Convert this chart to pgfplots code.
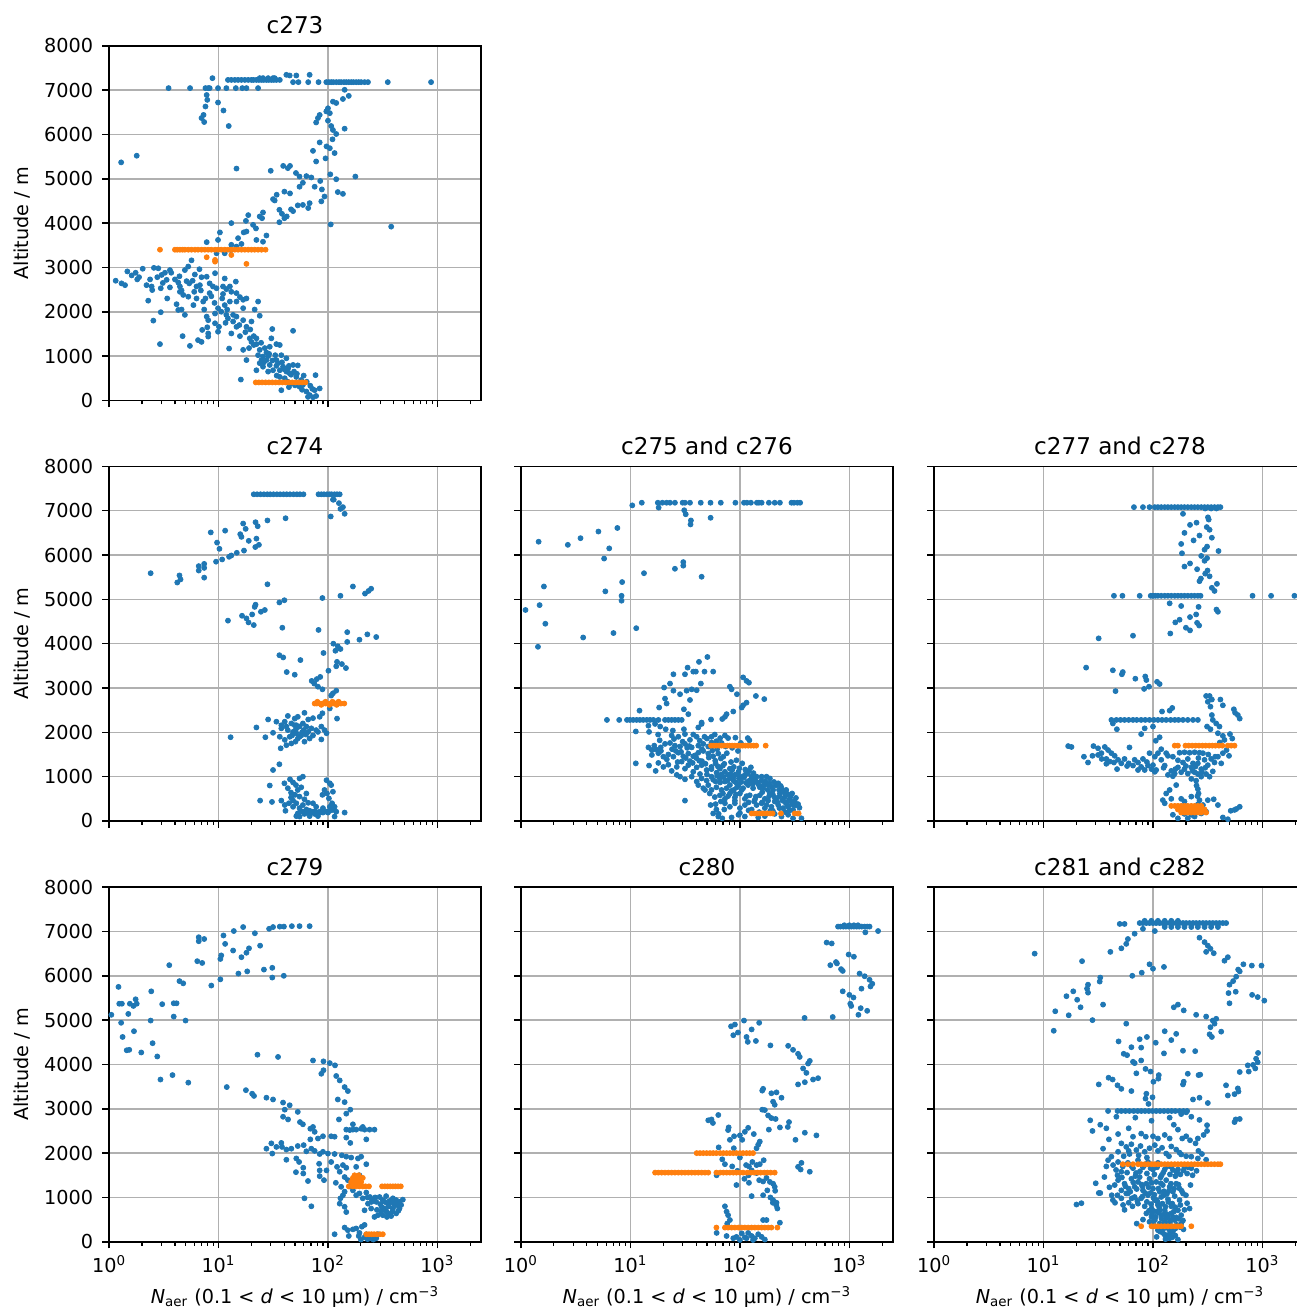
\documentclass[border=0pt]{standalone}
\usepackage{fontspec}
\setmainfont{DejaVu Sans}
\usepackage{pgfplots}
\pgfplotsset{compat=1.18}
\definecolor{mblue}{HTML}{1F77B4}
\definecolor{morange}{HTML}{FF7F0E}
\definecolor{gridgray}{HTML}{B0B0B0}
\newcommand{\xlab}{\textit{N}\textsubscript{aer} (0.1 < \textit{d} < 10 μm) / cm\textsuperscript{−3}}
\begin{document}
\begin{tikzpicture}
% ---------------- c273
\begin{axis}[xmode=log, xmin=1, xmax=2500, ymin=0, ymax=8000, scale only axis, width=193.4pt, height=184.4pt, anchor=south west, xtick={1,10,100,1000}, minor xtick={2,3,4,5,6,7,8,9,20,30,40,50,60,70,80,90,200,300,400,500,600,700,800,900,2000}, ytick={0,1000,2000,3000,4000,5000,6000,7000,8000}, xmajorgrids, ymajorgrids, major grid style={draw=gridgray, line width=0.8pt}, tick align=outside, tick pos=left, major tick length=3.5pt, minor tick length=2pt, every major tick/.append style={black, line width=0.8pt}, every minor tick/.append style={black, line width=0.6pt}, axis line style={black, line width=0.8pt}, title style={at={(0.5,1)}, yshift=-3.5pt, font=\fontsize{12}{14}\selectfont}, ylabel style={at={(axis description cs:0,0.5)}, anchor=center, yshift=45pt}, xlabel style={at={(axis description cs:0.5,0)}, anchor=base, yshift=-31.9pt}, yticklabel style={xshift=-1.3pt},
 at={(56.7pt,473.5pt)}, title={c273}, xticklabels={,,,,}, yticklabels={0,1000,2000,3000,4000,5000,6000,7000,8000}, ylabel={Altitude / m}]
\addplot[only marks, mark=*, mark size=1.3pt, color=mblue] coordinates {(12.2,7230)(13.1,7230)(14.1,7230)(15.1,7230)(16.2,7230)(17.4,7230)(18.7,7230)(20,7230)(20.9,7230)(22.2,7230)(23.4,7230)(24.7,7230)(25.9,7230)(27.4,7230)(28.8,7230)(30.4,7230)(32,7230)(33.8,7230)(36.3,7230)(23.8,7270)(25.5,7270)(28.4,7270)(31.5,7270)(32.6,7270)(8.8,7270)(41.7,7345)(44.7,7330)(51.4,7330)(68,7345)(48,7180)(53.7,7180)(66,7180)(82,7180)(96.6,7180)(102,7180)(107,7180)(112,7180)(119,7180)(126,7180)(132,7180)(140,7180)(147,7180)(155,7180)(163,7180)(171,7180)(181,7180)(191,7180)(201,7180)(216,7180)(232,7180)(352,7180)(875,7180)(142,7007)(3.5,7045)(5.5,7045)(7.6,7045)(8.05,7045)(8.3,7045)(9.9,7045)(11.8,7045)(14.4,7045)(16.5,7045)(18,7045)(23,7045)(7.8,6890)(7.9,6780)(7.6,6630)(7.3,6440)(7,6370)(7.4,6280)(9.9,6720)(11.1,6540)(12.4,6190)(1.29,5370)(1.79,5520)
(137,6800)(155,6870)(119,6710)(111,6740)(100,6590)(96.6,6520)(104,6480)(84,6440)(81,6370)(78,6270)(100,6310)(107,6190)(111,6100)(119,6010)(142,6130)(110,5890)(84,5820)(97,5730)(104,5690)(73,5630)(115,5580)(95,5460)(78,5390)(178,5050)(105,5100)(119,4990)(85,4950)(75.6,4820)(88,4760)(123,4700)(137,4660)(93,4600)(87,4490)(68,4450)(66,4340)(59,4410)(53,4400)(55,4820)(59,4910)(51,5130)(55,5050)(45,5290)(43,5240)(39,5290)(63.5,5060)(70.5,5030)(30,5180)(14.6,5230)(378,3920)(106,3970)
(40,4710)(45,4670)(34,4640)(31.5,4540)(32.6,4510)(36,4300)(38,4210)(46,4310)(48,4270)(42,4150)(40,4110)(36,4020)(25.5,4240)(23.8,4150)(25,4110)(18.7,4180)(13.1,4000)(17.8,4050)(20.7,3960)(22,3880)(27.4,3720)(25.5,3580)(22.2,3620)(17,3790)(18,3810)(15.1,3660)(16.2,3530)(13.1,3510)(10.3,3790)(9.9,3620)(7.8,3570)(9.6,3320)(11.4,3320)(13,3390)(14.6,3470)
(1.15,2700)(1.3,2640)(1.4,2600)(1.47,2910)(1.61,2820)(1.75,2880)(1.88,2780)(2.03,2970)(1.81,2730)(2.57,2990)(2.82,2980)(3.24,2880)(3.6,2940)(2.76,2780)(3.02,2830)(2.37,2730)(2.45,2570)(2.48,2490)(2.97,2530)(3.36,2720)(3.6,2550)(4,2730)(4.29,2660)(4.44,2570)(4.6,2480)(5.11,2690)(5.4,2640)(5.67,3160)(5.29,3020)(4.93,2940)(6.08,2840)(6.7,2960)(7,2780)(6.76,2600)(6.3,2570)(7.8,2790)(8.3,2640)(9.3,2870)(8.9,2570)(9.6,2530)(8.3,2420)(7.6,2300)(7.25,2230)(6.3,2300)(5.3,2340)(4.76,2380)(4.44,2450)(2.28,2250)(3.4,2300)(4.14,2170)(4.29,2040)(4.6,2050)(4.93,1930)(2.97,1990)(2.54,1800)(2.92,1270)(4.7,1450)(5.48,1230)(6.5,1360)(7,1320)(7.1,1590)(8.05,1440)(8.05,1510)(7.9,1650)(8.05,1810)(7.8,1890)(9.3,1960)(9.9,1550)(10.1,1660)(9.3,1740)(11.4,2750)(11,2570)(11.8,2510)(12.7,2570)(13.1,2450)(14.4,2680)(14.6,2420)(15.7,2330)(16.8,2270)(18,2300)(16.8,2080)(14.6,2230)(12.7,2230)(11.4,2150)(9.9,2080)(10.6,2000)(11.8,1930)(12.2,1850)(13.6,1930)(14.6,1890)(15.5,1700)(16.8,1810)(18,1660)(20,1780)(21.4,2050)(23,2230)(23.8,1910)(14.6,1660)(13.1,1510)(12.5,1170)(15.7,1450)(16.8,1140)(18,910)(19.3,1400)(20,1320)(21,1250)(22.2,1270)(23.8,1140)(23,1020)(25.5,990)(24.7,910)(27.4,1080)(29.4,1210)(31,1610)(30.4,1400)(33.8,1270)(36.3,1250)(27.4,910)(29.4,800)(25.5,760)(22.2,680)(23.8,840)(28.4,650)(31.5,680)(33.8,780)(36.3,680)(38.9,760)(41.7,650)(43.2,720)(44.7,610)(48,800)(53,790)(36.3,530)(40.3,500)(46.3,380)(51.4,530)(55,310)(59,350)(63.5,200)(68,120)(75.6,230)(78,100)(77,570)(37.5,230)(16,470)(48,1570)(37.5,1020)(41.7,950)(33.8,910)(22.2,1400)(65.7,80)(73,70)(84,270)(26,860)(34,560)(43,420)(29,1050)(19,1180)(11,2400)(12,2050)(6,2450)(3.1,2650)(2.2,2600)
(3.7,2880)(4.4,2800)(5.8,2700)(6.9,2480)(8.6,2350)(10.8,2300)(9.2,2200)(5.9,2150)(7.4,2050)(11.6,1750)(13.6,1780)(17.6,1540)(19.5,1600)(21,1450)(24.5,1300)(26.5,1180)(28.5,1000)(31,900)(33,1020)(35,840)(38,860)(40,700)(44,780)(46,580)(49,650)(52,600)(57,460)(60,560)(64,420)(69,330)(72,260)(58,240)(50,340)(44,300)};
\addplot[only marks, mark=*, mark size=1.3pt, color=morange] coordinates {(2.92,3400)(4,3400)(4.2,3400)(4.44,3400)(4.7,3400)(4.93,3400)(5.3,3400)(5.67,3400)(6.1,3400)(6.5,3400)(7,3400)(7.5,3400)(8.05,3400)(8.6,3400)(9.3,3400)(9.9,3400)(10.6,3400)(11.4,3400)(12.2,3400)(13.1,3400)(14.1,3400)(15.1,3400)(16.2,3400)(17.4,3400)(18.7,3400)(20,3400)(21.4,3400)(23,3400)(24.7,3400)(26.9,3400)(7.8,3230)(9.3,3170)(9.3,3130)(13.1,3280)(18,3080)(21.9,406)(23.4,406)(25,406)(26.9,406)(28.9,406)(31,406)(33.3,406)(35.7,406)(38.3,406)(41,406)(44,406)(47.2,406)(50.5,406)(54.2,406)(58,406)(62.3,406)};
\end{axis}
% ---------------- c274
\begin{axis}[xmode=log, xmin=1, xmax=2500, ymin=0, ymax=8000, scale only axis, width=193.4pt, height=184.4pt, anchor=south west, xtick={1,10,100,1000}, minor xtick={2,3,4,5,6,7,8,9,20,30,40,50,60,70,80,90,200,300,400,500,600,700,800,900,2000}, ytick={0,1000,2000,3000,4000,5000,6000,7000,8000}, xmajorgrids, ymajorgrids, major grid style={draw=gridgray, line width=0.8pt}, tick align=outside, tick pos=left, major tick length=3.5pt, minor tick length=2pt, every major tick/.append style={black, line width=0.8pt}, every minor tick/.append style={black, line width=0.6pt}, axis line style={black, line width=0.8pt}, title style={at={(0.5,1)}, yshift=-3.5pt, font=\fontsize{12}{14}\selectfont}, ylabel style={at={(axis description cs:0,0.5)}, anchor=center, yshift=45pt}, xlabel style={at={(axis description cs:0.5,0)}, anchor=base, yshift=-31.9pt}, yticklabel style={xshift=-1.3pt},
 at={(56.7pt,254.8pt)}, title={c274}, xticklabels={,,,,}, yticklabels={0,1000,2000,3000,4000,5000,6000,7000,8000}, ylabel={Altitude / m}]
\addplot[only marks, mark=*, mark size=1.3pt, color=mblue] coordinates {(21,7370)(22.5,7370)(24.2,7370)(26,7370)(27.9,7370)(29.7,7370)(31.8,7370)(34.2,7370)(36.6,7370)(39.3,7370)(42,7370)(45,7370)(48.5,7370)(52,7370)(55.5,7370)(59.7,7370)(82,7370)(87,7370)(92,7370)(98,7370)(103,7370)(108,7370)(115,7370)(121,7370)(128,7370)(113,7250)(126,7170)(111,7250)(130,7040)(137,7080)(142,6930)(106,6870)
(41,6830)(28,6780)(21.8,6740)(22.8,6650)(16.8,6710)(17.7,6590)(11.5,6550)(8.5,6510)(15.8,6470)(16.2,6410)(22.2,6370)(18.9,6320)(9.7,6280)(10.2,6140)(23.4,6230)(21.7,6180)(17.1,6100)(14.7,6050)(13.1,5990)(12.5,5960)(10.8,5900)(9.5,5850)(7.4,5800)(6.6,5750)(6.6,5650)(7.4,5710)(4.4,5540)(4.5,5450)(4.2,5380)(7.4,5490)(2.4,5590)
(28,5340)(169,5290)(130,5080)(89,5030)(218,5130)(235,5190)(248,5240)(40,4980)(36,4930)(21.8,4880)(21.4,4830)(26.5,4760)(24.4,4720)(20.3,4660)(16.4,4630)(18,4570)(18.8,4480)(21,4420)(12.2,4520)(38.3,4360)(82,4310)(150,4260)(229,4210)(276,4150)(194,4090)(150,4040)(112,4000)(123,3940)(130,3880)(117,3840)(91,3790)(36,3740)(39,3690)(56,3630)(121,3590)(134,3540)(119,3490)(146,3450)(101,3390)(42,3360)(49.7,3300)(85,3250)(79,3200)(71,3160)(75,3100)(81,3030)(89,2970)
(119,2940)(111,2880)(107,2830)(104,2540)(121,2310)(61,2440)(84,2350)(89,2430)(73,2320)(66,2290)(53,2350)(49.7,2310)(43,2370)(28.4,2290)(22.2,2110)(33.8,2240)(37.5,2160)(40.3,2240)(46.3,2200)(51.4,2160)(55,2130)(59,2200)(63.5,2130)(70.5,2090)(78,2050)(87,2130)(93,2050)(97,1980)(87,1840)(36.3,1900)(40.3,1830)(44.7,1900)(48,2010)(51.4,1980)(55,1900)(61,1790)(46.3,1750)(41.7,1710)(50.5,1790)(31.5,1990)(26.8,1890)(12.9,1890)(37,1640)(57,1930)(66,2010)(73,1930)(60,2050)(51,2070)(43,2050)(37.5,2090)(53,1860)(68,1860)(81,2010)(49.7,2160)(41.7,2130)(58,2000)(63,1950)(47,1930)(36,1280)(31.5,1150)
(45,940)(40,850)(48,870)(55,960)(59,1000)(51,810)(53,700)(57,760)(43,740)(46,640)(50,590)(55,550)(63.5,620)(29.4,800)(24,460)(30.8,430)(37.5,460)(40.3,360)(40.9,230)(44,400)(48,320)(51.4,400)(55,290)(59,360)(63.5,260)(51.4,110)(55,100)(59,210)(63.5,190)(68,230)(73,210)(78,200)(84,210)(90,190)(97,210)(104,230)(111,250)(119,210)(142,190)(115,100)(89,590)(93,700)(97,920)(104,850)(98,620)(107,810)(111,660)(102,510)(109,400)(115,320)(104,320)(73,400)(78,320)(66,410)(61,490)(48,460)(53,170)(75.6,160)(61,160)(68,110)(81,110)(90,290)(46,530)(70,190)(86,195)(100,190)(65,205)(56,220)(76,215)(93,220)};
\addplot[only marks, mark=*, mark size=1.3pt, color=morange] coordinates {(75.6,2650)(79,2650)(84,2650)(89,2650)(95,2650)(99,2650)(105,2650)(111,2650)(117,2650)(124,2650)(131,2650)(141,2650)(80,2690)(95,2690)(110,2690)(125,2690)(87,2620)(103,2620)(120,2620)};
\end{axis}
% ---------------- c275 and c276
\begin{axis}[xmode=log, xmin=1, xmax=2500, ymin=0, ymax=8000, scale only axis, width=193.4pt, height=184.4pt, anchor=south west, xtick={1,10,100,1000}, minor xtick={2,3,4,5,6,7,8,9,20,30,40,50,60,70,80,90,200,300,400,500,600,700,800,900,2000}, ytick={0,1000,2000,3000,4000,5000,6000,7000,8000}, xmajorgrids, ymajorgrids, major grid style={draw=gridgray, line width=0.8pt}, tick align=outside, tick pos=left, major tick length=3.5pt, minor tick length=2pt, every major tick/.append style={black, line width=0.8pt}, every minor tick/.append style={black, line width=0.6pt}, axis line style={black, line width=0.8pt}, title style={at={(0.5,1)}, yshift=-3.5pt, font=\fontsize{12}{14}\selectfont},
 at={(270.9pt,254.8pt)}, title={c275 and c276}, xticklabels={,,,,}, yticklabels={,,,,,,,,,}]
\addplot[only marks, mark=*, mark size=1.3pt, color=mblue] coordinates {(10.4,7120)(12.7,7180)(17.8,7180)(18.1,7070)(19.6,7180)(21.4,7180)(23,7180)(25.5,7180)(30,7180)(31.5,7180)(35,7180)(43.9,7180)(53.9,7180)(66.9,7180)(91,7180)(109,7180)(116,7180)(126,7180)(143,7180)(149,7180)(158,7180)(184,7180)(208,7180)(232,7180)(296,7180)(312,7180)(335,7180)(355,7180)(31,7010)(32,6920)(35.7,6780)(35.4,6690)(54,6840)
(1.45,6300)(2.68,6230)(3.5,6380)(5.1,6530)(7.6,6610)(6.4,6150)(5.75,5920)(8.4,5390)(1.62,5290)(5.9,5180)(8.3,5080)(8.3,4970)(1.1,4760)(1.48,4870)(1.67,4450)(1.43,3930)(3.7,4140)(7,4240)(11.3,4350)(13.3,5590)(25.5,5690)(30.4,5840)(30.4,5760)(44.7,5510)
(6.1,2280)(7.9,2280)(9.3,2280)(9.9,2280)(10.6,2280)(11.4,2280)(12.2,2280)(13.1,2280)(14.1,2280)(15.1,2280)(16.2,2280)(18,2280)(20.7,2280)(22.2,2280)(23.8,2280)(25.5,2280)(27.4,2280)(29.4,2280)(54.5,2290)(44.7,2220)
(50.5,3700)(42.3,3590)(33.3,3460)(39.6,3370)(47.5,3370)(57,3370)(24.7,3310)(31.5,3310)(37.5,3370)(23,3100)(20.3,3010)(24.7,2940)(28.4,2860)(32.6,2940)(36.3,2970)(44,3100)(40.3,2950)(20.7,2760)(21.4,2650)(35,2730)(18.3,2560)(30.8,2520)(33.8,2410)(107,3240)(115,3160)(121,3120)(81,3030)(84,2970)(94,2860)(140,2820)(167,2750)(115,2670)(107,2610)(104,2560)(87,2470)(75.6,2410)(73,2350)(69,2300)(44.7,2190)(41.7,2110)
(12.1,2490)(14.6,2150)(16.8,2190)(18.7,2130)(21,2070)(24.4,2040)(30.8,2070)(11.2,2020)(14.8,2010)(17.9,1950)(23.8,1930)(27.4,1900)(31.5,1960)(37.5,1950)(40.3,1900)(47.5,1900)(55,1900)(59,1950)(66,1870)(73,1930)(78,1870)(91,1880)(118,1870)(122,1820)(14.6,1660)(15.7,1600)(17.2,1610)(18.9,1660)(20.7,1740)(23,1760)(25.5,1700)(28.4,1680)(31.5,1740)(36.3,1660)(41.7,1700)(46.3,1740)(51.4,1680)(55,1770)(15.7,1490)(18,1530)(20,1450)(22.2,1500)(24.7,1450)(27.4,1540)(30.4,1460)(33.8,1520)(37.5,1460)(41.7,1540)(46.3,1580)(51.4,1520)(57,1460)(63.5,1520)(70.5,1450)(11.2,1300)(14.8,1250)(17,1130)(18,1310)(20,1220)(22.2,1270)(23.8,1130)(26.5,1040)(26.5,1220)(29.4,1340)(31.5,1180)(33.8,1260)(37.5,1110)(40.3,1210)(43.2,1060)(44.7,1260)(49.7,1150)(55,1220)(61.3,1090)(65.7,1180)(73,1110)(78,1040)(81,1180)(28.4,1000)(31.5,940)(36.3,1000)(40.3,890)(44.7,960)(49.7,910)(55,1000)(60,890)(65.7,960)(73,890)(81,960)(90,1040)(97,1110)(104,1000)(111,1040)(121,1130)(128,1000)(142,1000)(158,1000)(175,1000)(188,960)(41.7,810)(46.3,740)(51.4,810)(55,700)(61,760)(68,700)(75.6,740)(81,810)(88,700)(97,810)(107,740)(119,810)(132,740)(147,830)(163,740)(181,810)(201,700)(224,850)(240,740)(53,620)(59,540)(65.7,580)(73,500)(81,620)(90,530)(100,620)(111,500)(123,580)(137,480)(152,580)(169,500)(188,620)(208,530)(232,620)(257,540)(286,500)(317,440)(54,360)(61,260)(57,170)(63.5,100)(69,60)(73,400)(81,320)(90,400)(100,290)(111,360)(128,260)(142,360)(169,290)(194,320)(224,360)(248,290)(276,320)(306,250)(335,170)(365,60)(208,160)(240,100)(276,140)(306,60)(169,110)(147,80)(111,100)(97,140)(84,80)(31.5,460)(158,400)(181,460)(208,440)(60,1300)(70,1250)(85,1150)(95,1050)(68,1050)(50,1050)(45,1350)(35,1350)(26,1580)(33,1650)(40,1420)(62,1620)(55,1170)(88,900)(120,900)(140,900)(160,650)(180,700)(200,600)(220,420)(260,420)(120,420)(90,460)(70,620)(48,700)(150,200)(130,180)(200,230)(260,200)(280,460)
(19,1580)(21.5,1390)(24,1620)(27,1330)(29,1560)(32,1420)(34.5,1690)(37,1310)(39,1480)(42.5,1360)(45,1620)(48.5,1290)(52,1430)(56,1590)(59.5,1360)(63,1230)(67,1410)(72,1290)(76,1530)(83,1330)(88,1220)(93,1370)(99,1190)(105,1300)(112,1160)(118,1070)(126,1210)(133,1080)(16.5,1700)(18.5,1820)(25,1850)(30,1790)(35,1830)(43,1810)(50,1860)(61,1800)(68,1760)(74,1680)(85,1650)(96,1580)(102,1760)(57,930)(62,1020)(66,870)(71,990)(77,910)(82,1060)(87,980)(93,860)(98,960)(103,880)(109,980)(114,860)(124,920)(131,840)(136,950)(145,870)(152,760)(157,910)(166,820)(172,890)(186,850)(195,780)(205,880)(214,800)(228,700)(236,790)(252,650)(265,700)(272,610)(290,560)(300,620)(325,520)(340,380)(350,300)(300,380)(285,240)(230,290)(190,230)(175,360)(160,420)(135,440)(115,560)(104,700)(94,760)(84,680)(78,560)(67,440)(60,380)(64,160)(72,260)(100,180)(120,240)(92,600)(140,550)(185,560)(215,480)(245,460)(230,550)(270,360)(320,350)(296,440)};
\addplot[only marks, mark=*, mark size=1.3pt, color=morange] coordinates {(54.5,1700)(57.6,1700)(61,1700)(64.7,1700)(68,1700)(71.6,1700)(76.6,1700)(80.4,1700)(85,1700)(90,1700)(95.4,1700)(101,1700)(106,1700)(112,1700)(119,1700)(126,1700)(134,1700)(141,1700)(172,1700)(128,170)(135,170)(144,170)(152,170)(161,170)(169,170)(178,170)(189,170)(199,170)(237,170)(317,170)(344,170)};
\end{axis}
% ---------------- c277 and c278
\begin{axis}[xmode=log, xmin=1, xmax=2500, ymin=0, ymax=8000, scale only axis, width=193.4pt, height=184.4pt, anchor=south west, xtick={1,10,100,1000}, minor xtick={2,3,4,5,6,7,8,9,20,30,40,50,60,70,80,90,200,300,400,500,600,700,800,900,2000}, ytick={0,1000,2000,3000,4000,5000,6000,7000,8000}, xmajorgrids, ymajorgrids, major grid style={draw=gridgray, line width=0.8pt}, tick align=outside, tick pos=left, major tick length=3.5pt, minor tick length=2pt, every major tick/.append style={black, line width=0.8pt}, every minor tick/.append style={black, line width=0.6pt}, axis line style={black, line width=0.8pt}, title style={at={(0.5,1)}, yshift=-3.5pt, font=\fontsize{12}{14}\selectfont},
 at={(485.7pt,254.8pt)}, title={c277 and c278}, xticklabels={,,,,}, yticklabels={,,,,,,,,,}]
\addplot[only marks, mark=*, mark size=1.3pt, color=mblue] coordinates {(67,7080)(81,7080)(93,7080)(104,7080)(111,7080)(119,7080)(128,7080)(137,7080)(147,7080)(158,7080)(169,7080)(181,7080)(194,7080)(208,7080)(224,7080)(240,7080)(257,7080)(276,7080)(296,7080)(317,7080)(340,7080)(365,7080)(392,7080)(413,7080)(300,7050)(340,7050)(380,7050)
(188,6930)(218,6680)(250,6730)(194,6500)(235,6330)(266,6440)(310,6630)(329,6570)(318,6850)(323,6800)(345,6390)(312,6190)(296,6120)(181,6250)(184,6040)(397,6090)(276,5980)(312,5930)(296,5870)(194,5740)(218,5810)(253,5680)(274,5470)(315,5650)(329,5520)(300,5580)(266,5410)(384,5350)(345,5260)(365,5190)
(44,5080)(52.6,5080)(75.6,5080)(95.4,5080)(100,5080)(105,5080)(111,5080)(119,5080)(128,5080)(137,5080)(147,5080)(158,5080)(169,5080)(181,5080)(194,5080)(208,5080)(224,5080)(240,5080)(257,5080)(272,5080)(812,5080)(1200,5080)(1960,5080)
(142,4910)(181,4850)(261,4830)(380,4770)(392,4720)(248,4660)(218,4600)(175,4540)(160,4480)(253,4470)(264,4410)(200,4360)(218,4300)(144,4230)(65.7,4180)(31.9,4120)
(24.5,3460)(43,3400)(53,3360)(52,3310)(69,3210)(85,3260)(87,3180)(109,3140)(115,3090)(92,3030)(83,2980)(45.5,2930)
(306,2820)(329,2820)(345,2740)(413,2740)(317,2690)(335,2580)(435,2610)(548,2520)(563,2440)(596,2390)(620,2310)(345,2390)(352,2280)(378,2200)(405,2130)(335,2070)(312,2130)(392,1980)(435,1920)(505,1960)(530,1860)(450,1830)(408,1770)(150,2550)(142,2490)(121,2470)
(41.7,2280)(46.3,2280)(50.5,2280)(55,2280)(60,2280)(65.7,2280)(71,2280)(78,2280)(85,2280)(93,2280)(102,2280)(111,2280)(121,2280)(132,2280)(145,2280)(158,2280)(171,2280)(188,2280)(208,2280)(232,2280)(257,2280)(43,2200)(46.8,2070)(84,2090)(78,1960)(100,2130)(106,1810)(115,1890)
(16.8,1690)(18,1670)(23.4,1450)(25.5,1320)(28.6,1690)(31.5,1640)(33.8,1530)(31.5,1490)(36.3,1670)(38.9,1600)(37.5,1400)(41.7,1530)(44.7,1470)(40.3,1340)(37.5,1290)(48,1380)(51.4,1300)(55,1400)(47,1170)(61,1660)(60,1300)(65.7,1250)(73,1320)(78,1220)(84,1150)(90,1250)(97,1170)(104,1110)(93,1530)(104,1450)(111,1530)(119,1380)(128,1250)(137,1470)(147,1130)(158,1070)(169,1210)(181,1100)(194,1170)(208,1070)(224,1210)(240,1100)(257,1300)(276,1170)(296,1380)(317,1260)(340,1400)(365,1320)(392,1450)(435,1530)(470,1600)(495,1470)(420,1300)(352,1120)(329,1000)(306,1060)(175,1540)(194,1550)(216,1540)(240,1550)(266,1540)(286,1530)(152,1450)(169,1370)(188,1320)(208,1400)(232,1300)(257,1060)(276,1000)(152,1010)(137,1040)(224,950)(132,1530)(119,1620)(107,1150)(73,1150)(81,1400)(34,1400)(28,1470)(44,1320)(58,1240)(68,1380)(88,1330)(100,1260)(125,1200)(160,1170)(200,1240)(245,1230)(300,1200)(230,1130)(280,1100)(320,1500)(370,1450)(260,1420)
(163,810)(142,700)(132,620)(147,500)(123,470)(128,400)(181,500)(194,440)(224,550)(248,910)(257,720)(261,620)(266,470)(286,360)(317,470)(359,490)(392,360)(152,140)(169,60)(208,60)(240,100)(276,170)(306,210)(248,230)(435,80)(483,40)(513,230)(556,250)(620,320)(576,270)(194,160)(224,140)(250,800)(255,560)(258,380)};
\addplot[only marks, mark=*, mark size=1.3pt, color=morange] coordinates {(158,1700)(169,1700)(198,1700)(212,1700)(228,1700)(245,1700)(263,1700)(283,1700)(303,1700)(326,1700)(348,1700)(372,1700)(400,1700)(430,1700)(483,1700)(518,1700)(556,1700)(147,340)(158,340)(169,340)(181,340)(194,340)(208,340)(224,340)(240,340)(257,340)(276,340)(169,260)(181,260)(194,260)(208,260)(224,260)(240,260)(257,260)(276,260)(296,260)(181,190)(194,190)(208,190)(224,190)(240,190)(257,190)(276,190)(306,190)};
\end{axis}
% ---------------- c279
\begin{axis}[xmode=log, xmin=1, xmax=2500, ymin=0, ymax=8000, scale only axis, width=193.4pt, height=184.4pt, anchor=south west, xtick={1,10,100,1000}, minor xtick={2,3,4,5,6,7,8,9,20,30,40,50,60,70,80,90,200,300,400,500,600,700,800,900,2000}, ytick={0,1000,2000,3000,4000,5000,6000,7000,8000}, xmajorgrids, ymajorgrids, major grid style={draw=gridgray, line width=0.8pt}, tick align=outside, tick pos=left, major tick length=3.5pt, minor tick length=2pt, every major tick/.append style={black, line width=0.8pt}, every minor tick/.append style={black, line width=0.6pt}, axis line style={black, line width=0.8pt}, title style={at={(0.5,1)}, yshift=-3.5pt, font=\fontsize{12}{14}\selectfont}, ylabel style={at={(axis description cs:0,0.5)}, anchor=center, yshift=45pt}, xlabel style={at={(axis description cs:0.5,0)}, anchor=base, yshift=-31.9pt}, yticklabel style={xshift=-1.3pt},
 at={(56.7pt,36.0pt)}, title={c279}, xticklabels={10\textsuperscript{0},10\textsuperscript{1},10\textsuperscript{2},10\textsuperscript{3}}, yticklabels={0,1000,2000,3000,4000,5000,6000,7000,8000}, ylabel={Altitude / m}, xlabel={\xlab}]
\addplot[only marks, mark=*, mark size=1.3pt, color=mblue] coordinates {(68,7120)(55,7120)(46.8,7120)(39.6,7110)(36.3,7110)(31.5,7100)(29,7060)(16.8,7100)(13.8,7010)(21.5,6960)(11.1,6910)(11.5,6720)(6.6,6870)(6.6,6780)(7.4,6830)(13.6,6570)(16.2,6420)(18,6520)(19,6620)(24,6680)(10.4,6380)(10.6,6460)(6.4,6330)(7.1,6290)(3.55,6240)(26,6140)(31,6180)(31,5960)(39.5,6000)(18.3,6100)(15.2,6050)(10.4,5920)(8.6,5780)(4.4,5880)(4.76,5830)(1.22,5750)(2.43,5650)(1.24,5370)(1.31,5370)(1.55,5370)(1.67,5320)(1.79,5370)(1.75,5470)(3.06,5360)(3.9,5380)(4.14,5380)(1.05,5120)(1.5,5140)(1.29,4940)(2.4,4990)(3.9,5080)(5,4990)(1.33,4620)(1.69,4750)(1.45,4320)(1.53,4330)(1.97,4270)(2.5,4480)(2.76,4180)(2.95,3660)(3.8,3760)(5.3,3590)
(22.7,4220)(35,4170)(73,4090)(91,4070)(104,4030)(116,3980)(87,3790)(91,3870)(119,3740)(128,3640)(142,3490)(152,3400)(123,3210)(142,3150)(160,2980)(147,2890)(11.9,3490)(17.8,3420)(20.3,3340)(21.1,3290)(27.4,3250)(31.5,3210)(38.9,3140)(44.7,3080)(40.3,2980)(53,2930)(38.9,2820)(43.2,2760)(55.5,2700)(59,2650)(69,2550)(73,2590)(75.6,2480)(126,2760)(147,2530)(158,2520)(169,2530)(181,2530)(201,2550)(216,2530)(240,2530)(266,2530)(208,2590)(169,2650)(81,2330)(90,2380)(107,2380)(115,2370)(147,2350)(160,2230)(224,2310)(69,2310)(27.4,2100)(30.4,2220)(31,1990)(33.8,2140)(37.5,2230)(38,2140)(41.7,2080)(46.3,2100)(53,2160)(60,2180)(63.5,2040)(70.5,2100)(75.6,2050)(84,1980)(90,2030)(100,1990)(115,1980)(41.7,1850)(51.4,1880)(54.5,1800)(59.5,1670)(51,1570)(59.5,1540)(65.7,1370)(83,1760)(84,1610)(84,1480)(92,1390)(97,1610)(107,1800)(121,1690)(128,1580)(137,1730)(147,1670)(134,1950)(147,1920)(163,1900)(188,1880)(201,1920)(224,1750)(181,1690)(194,1500)(118,1330)(142,1460)(152,1390)(132,1240)(158,1250)(142,1130)(169,1160)(181,1050)(194,1090)(208,980)(224,1110)(242,1010)(257,940)(276,900)(296,1010)(317,940)(340,1030)(365,920)(392,980)(420,940)(450,900)(483,950)(435,830)(392,750)(352,860)(329,750)(306,680)(286,600)(266,560)(248,750)(232,860)(216,710)(317,600)(352,640)(386,680)(420,640)(450,750)(466,830)(346,560)(378,580)(137,1050)(128,860)(142,790)(130,980)(147,670)(61,980)(70.5,800)(115,170)(142,320)(152,260)(169,280)(181,300)(194,200)(216,380)(204,340)(191,130)(216,100)(240,80)(257,130)(276,80)(286,170)(224,170)(155,130)(300,850)(330,900)(360,800)(400,860)(280,720)(250,900)(230,1000)(270,1000)(310,780)(340,700)(380,900)(410,820)(440,700)(200,50)(230,60)(260,50)};
\addplot[only marks, mark=*, mark size=1.3pt, color=morange] coordinates {(155,1250)(169,1250)(181,1250)(194,1250)(208,1250)(220,1250)(237,1250)(163,1350)(175,1350)(188,1350)(201,1350)(169,1440)(184,1440)(197,1440)(208,1440)(175,1500)(191,1500)(312,1250)(331,1250)(350,1250)(370,1250)(392,1250)(413,1250)(437,1250)(463,1250)(224,170)(237,170)(250,170)(264,170)(280,170)(298,170)(317,170)};
\end{axis}
% ---------------- c280
\begin{axis}[xmode=log, xmin=1, xmax=2500, ymin=0, ymax=8000, scale only axis, width=193.4pt, height=184.4pt, anchor=south west, xtick={1,10,100,1000}, minor xtick={2,3,4,5,6,7,8,9,20,30,40,50,60,70,80,90,200,300,400,500,600,700,800,900,2000}, ytick={0,1000,2000,3000,4000,5000,6000,7000,8000}, xmajorgrids, ymajorgrids, major grid style={draw=gridgray, line width=0.8pt}, tick align=outside, tick pos=left, major tick length=3.5pt, minor tick length=2pt, every major tick/.append style={black, line width=0.8pt}, every minor tick/.append style={black, line width=0.6pt}, axis line style={black, line width=0.8pt}, title style={at={(0.5,1)}, yshift=-3.5pt, font=\fontsize{12}{14}\selectfont}, xlabel style={at={(axis description cs:0.5,0)}, anchor=base, yshift=-31.9pt},
 at={(270.9pt,36.0pt)}, title={c280}, xticklabels={10\textsuperscript{0},10\textsuperscript{1},10\textsuperscript{2},10\textsuperscript{3}}, yticklabels={,,,,,,,,,}, xlabel={\xlab}]
\addplot[only marks, mark=*, mark size=1.3pt, color=mblue] coordinates {(788,7110)(830,7110)(880,7110)(930,7110)(985,7110)(1042,7110)(1100,7110)(1165,7110)(1230,7110)(1300,7110)(1380,7110)(1455,7110)(1530,7110)(900,7140)(1000,7140)(1100,7140)(1200,7140)(1400,6980)(1830,7010)
(620,6750)(690,6730)(985,6480)(1100,6430)(670,6240)(755,6310)(770,6280)(840,6150)(870,6110)(1240,6050)(1380,5990)(1530,5910)(1620,5820)(1560,5760)(870,5650)(1000,5570)(1090,5510)(1020,5370)(1040,5320)(1270,5270)(1455,5210)(1210,5120)(705,5070)(1290,5710)
(390,5050)(109,4990)(83,4860)(90,4900)(150,4940)(128,4790)(87,4660)(96,4720)(115,4620)(118,4510)(140,4530)(190,4430)(276,4420)(306,4330)(340,4240)(352,4170)(435,4080)(420,4020)(378,3910)(405,3810)(466,3660)(518,3690)(340,3550)(392,3600)(163,3450)(160,3410)(194,3350)(216,3370)(240,3250)(201,3160)(208,3090)(160,2980)(169,2970)(181,2850)(194,2790)(212,2770)(232,2580)(281,2700)(274,2590)(184,2530)(322,2300)(392,2460)(500,2400)(55,2760)(56.7,2680)(51.4,2740)(63.5,2860)(79,2580)(78,2520)(88.5,2380)(81,2300)(100,2400)(111,2480)(119,2570)(134,2430)(147,2190)(142,2110)(152,2260)(88,2110)(105,2300)(64,2130)(69,1860)(73,1750)(121,1700)(128,1610)(114,1730)(142,1730)(165,1840)(152,1750)(61.3,1500)(93,1280)(121,1330)(142,1550)(150,1390)(163,1360)(175,1440)(188,1350)(201,1310)(178,1160)(163,1050)(208,1240)(128,1030)(340,1690)(365,1780)(435,1580)(359,1630)(201,940)(216,880)(220,750)(73,800)(75.6,680)(78,600)(81,490)(76.6,410)(163,490)(175,490)(232,430)(61.3,200)(75.6,130)(87,80)(93,110)(104,190)(111,100)(119,200)(128,130)(137,80)(147,170)(158,110)(169,50)(115,80)(100,40)(132,40)(120,1500)(110,1420)(130,1800)(100,1900)(85,1700)(95,1600)(210,1150)(190,1000)(200,880)(215,820)};
\addplot[only marks, mark=*, mark size=1.3pt, color=morange] coordinates {(40.3,2000)(43.2,2000)(46.3,2000)(49.7,2000)(53.3,2000)(57,2000)(61,2000)(66,2000)(70.5,2000)(75.6,2000)(81,2000)(87,2000)(93,2000)(100,2000)(107,2000)(115,2000)(123,2000)(132,2000)(16.8,1560)(18,1560)(19.3,1560)(20.7,1560)(22.2,1560)(23.8,1560)(25.5,1560)(27.4,1560)(29.4,1560)(31.5,1560)(33.8,1560)(36.3,1560)(38.9,1560)(41.7,1560)(44.7,1560)(48,1560)(51.4,1560)(61,1560)(66,1560)(70.5,1560)(75.6,1560)(81,1560)(87,1560)(93,1560)(100,1560)(107,1560)(117,1560)(126,1560)(135,1560)(145,1560)(155,1560)(167,1560)(178,1560)(191,1560)(208,1560)(61,320)(73,320)(78,320)(84,320)(90,320)(97,320)(104,320)(111,320)(119,320)(128,320)(137,320)(147,320)(158,320)(169,320)(181,320)(194,320)(220,320)};
\end{axis}
% ---------------- c281 and c282
\begin{axis}[xmode=log, xmin=1, xmax=2500, ymin=0, ymax=8000, scale only axis, width=193.4pt, height=184.4pt, anchor=south west, xtick={1,10,100,1000}, minor xtick={2,3,4,5,6,7,8,9,20,30,40,50,60,70,80,90,200,300,400,500,600,700,800,900,2000}, ytick={0,1000,2000,3000,4000,5000,6000,7000,8000}, xmajorgrids, ymajorgrids, major grid style={draw=gridgray, line width=0.8pt}, tick align=outside, tick pos=left, major tick length=3.5pt, minor tick length=2pt, every major tick/.append style={black, line width=0.8pt}, every minor tick/.append style={black, line width=0.6pt}, axis line style={black, line width=0.8pt}, title style={at={(0.5,1)}, yshift=-3.5pt, font=\fontsize{12}{14}\selectfont}, xlabel style={at={(axis description cs:0.5,0)}, anchor=base, yshift=-31.9pt},
 at={(485.7pt,36.0pt)}, title={c281 and c282}, xticklabels={10\textsuperscript{0},10\textsuperscript{1},10\textsuperscript{2},10\textsuperscript{3}}, yticklabels={,,,,,,,,,}, xlabel={\xlab}]
\addplot[only marks, mark=*, mark size=1.3pt, color=mblue] coordinates {(75.6,7190)(81,7190)(87,7190)(93,7190)(100,7190)(107,7190)(115,7190)(123,7190)(132,7190)(142,7190)(152,7190)(163,7190)(175,7190)(188,7190)(201,7190)(216,7190)(232,7190)(248,7190)(266,7190)(286,7190)(306,7190)(329,7190)(352,7190)(378,7190)(405,7190)(435,7190)(466,7190)(84,7240)(96.6,7240)(111,7240)(128,7240)(147,7240)(169,7240)(128,7100)(147,7100)(169,7100)(194,7100)(224,7100)(257,7100)(296,7100)(340,7100)(392,7100)(49.7,7170)(55,7170)(81,7060)(104,7010)
(68,6950)(59,6830)(57,6720)(51.4,6620)(40.8,6540)(8.3,6500)(22.5,6330)(33,5960)(32.6,5870)(25.5,5800)(25,5710)(25.5,5620)(18.7,5650)(16.2,5540)(20.3,5460)(21.8,5290)(35,5350)(17,5110)(12.8,5200)(12.4,4760)(28,5000)(57,4920)(93,6260)(100,6160)(126,6200)(79,6070)(64.7,6000)
(266,6860)(296,6760)(317,6680)(335,6610)(306,6540)(359,6510)(483,6420)(450,6340)(670,6260)(620,6100)(576,5980)(540,5880)(500,5800)(490,5610)(500,5380)(570,5640)(800,6230)(980,6230)(805,5570)(905,5520)(1040,5440)(600,6140)
(155,5290)(169,5350)(191,5220)(248,5120)(306,5080)(352,4990)(378,5030)(365,4920)(335,4840)(329,4680)(345,4620)(420,4740)(912,4260)(875,4130)(905,4050)(820,3990)(735,3980)(620,3830)(750,3840)(860,3910)(465,3530)(483,3300)(556,3330)(596,3460)(604,3390)(570,2760)(620,2770)(556,2700)
(128,4750)(163,4690)(147,4550)(106,4490)(88,4620)(75.6,4570)(63.5,4390)(58,4210)(48.5,4520)(54,4240)(78,4380)(126,4250)(188,4310)(243,4300)(68,4030)(65.7,4060)(78,4090)(85.5,3900)(95,3840)(70.5,3800)(113,3760)(112,3680)(101,3610)(191,3610)(208,3790)(261,3760)(270,3770)(188,3550)(32,3550)(39.3,3700)(42.8,3660)(47.4,3530)(51.4,3450)(63.5,3400)(87,3340)(85.5,3230)(99,3260)(91,3110)(232,3210)(266,3250)(317,3130)(38.9,2950)(46.3,2820)(69,2800)(97,2730)(142,2800)(181,2880)(201,2920)(224,2820)(266,2750)(312,2630)(312,2500)(26.7,2740)(28,2500)(33,2640)(37.5,2560)(48,2430)(60,2560)(65.7,2370)(78,2440)(86,2370)(100,2380)(111,2330)(128,2410)(142,2330)(155,2640)(169,2530)(185,2330)(201,2380)(218,2290)(257,2330)(290,2410)(245,2220)(39.6,2310)(35,2100)(33,1100)(20,840)(22.2,870)
(47.5,2950)(51.4,2950)(56,2950)(61,2950)(66.7,2950)(72.5,2950)(78.3,2950)(84.6,2950)(91.6,2950)(99,2950)(107,2950)(116,2950)(126,2950)(137,2950)(148,2950)(160,2950)(175,2950)(190,2950)(205,2950)
(51.4,2220)(57,2140)(63.5,2200)(70.5,2070)(77,2160)(84,2030)(93,2110)(104,2180)(111,2050)(121,2120)(132,1990)(147,2150)(163,2080)(181,1970)(201,1930)(224,1920)(61,1980)(54,1930)(48,2030)(41.7,1920)(38.9,1840)
(37.5,1700)(43.2,1730)(48,1800)(53,1700)(59,1780)(65.7,1660)(73,1840)(81,1680)(90,1800)(100,1630)(111,1780)(128,1630)(147,1690)(169,1630)(194,1680)(224,1660)(257,1880)(306,1850)(47.4,1500)(51.4,1580)
(44.7,1280)(48,1390)(51.4,1160)(55,1310)(59,1090)(63.5,1420)(68,1240)(73,1350)(75.6,1460)(81,1160)(87,1310)(93,1420)(100,1200)(107,1350)(115,1130)(123,1280)(132,1390)(142,1240)(152,1130)(163,1310)(175,1200)(188,1090)(47.4,1050)(43,940)(51.4,980)(57,1090)(32,1100)(68,1010)(78,980)(90,1050)(104,940)(119,1010)(137,960)(158,1030)(175,940)(53.3,830)(60,880)(73,860)(84,800)(97,750)(111,830)(128,710)(147,800)(169,710)(216,750)(87,640)(97,560)(107,680)(119,600)(132,530)(147,640)(163,550)(181,600)(93,450)(104,490)(115,410)(128,450)(142,430)(158,490)(181,410)(111,260)(123,200)(137,150)(152,230)(169,50)(142,80)(132,110)(71,410)(81,500)(95,1100)(110,900)(125,1050)(140,1150)(80,1250)(60,1200)(70,1550)(120,1500)(160,1480)(100,700)(115,720)(135,620)(155,680)(120,300)(100,350)(140,280)(160,300)
(46,1620)(52,1450)(58,1560)(64,1700)(69,1480)(76,1590)(83,1720)(88,1540)(95,1660)(103,1520)(109,1680)(117,1450)(124,1560)(134,1700)(143,1520)(152,1620)(165,1560)(178,1520)(190,1610)(205,1540)(56,1250)(62,1130)(66,1340)(71,1190)(79,1290)(85,1100)(91,1230)(97,1330)(103,1060)(112,1200)(118,1320)(126,1140)(134,1080)(146,1310)(156,1200)(171,1290)(183,1150)(64,980)(72,920)(80,1020)(88,900)(96,850)(101,990)(108,940)(114,780)(122,860)(130,790)(138,900)(150,860)(160,780)(178,830)(194,720)(205,870)(92,700)(98,620)(106,560)(113,660)(120,520)(127,620)(136,560)(144,470)(152,560)(170,520)(188,480)(100,420)(110,330)(118,380)(125,300)(133,350)(146,360)(154,300)(165,380)(177,330)(190,280)(116,230)(128,160)(145,190)(160,140)(130,60)(150,100)(108,110)(40,1230)(36,1460)(30,1320)(42,1050)(45,880)(55,720)(65,800)(200,1050)(220,1280)(230,1500)(250,1600)(210,1680)(60,2050)(74,1950)(88,1900)(140,1930)(175,2010)(260,2050)(280,1980)};
\addplot[only marks, mark=*, mark size=1.3pt, color=morange] coordinates {(53,1750)(59,1750)(65.7,1750)(73,1750)(78,1750)(84,1750)(90,1750)(97,1750)(104,1750)(111,1750)(119,1750)(128,1750)(137,1750)(147,1750)(158,1750)(169,1750)(181,1750)(194,1750)(208,1750)(224,1750)(240,1750)(257,1750)(276,1750)(296,1750)(317,1750)(340,1750)(365,1750)(392,1750)(413,1750)(78,350)(97,350)(104,350)(111,350)(119,350)(128,350)(137,350)(147,350)(158,350)(169,350)(181,350)(224,350)};
\end{axis}
\pgfresetboundingbox
\useasboundingbox (0,0) rectangle (673.92pt,681.72pt);
\end{tikzpicture}
\end{document}
